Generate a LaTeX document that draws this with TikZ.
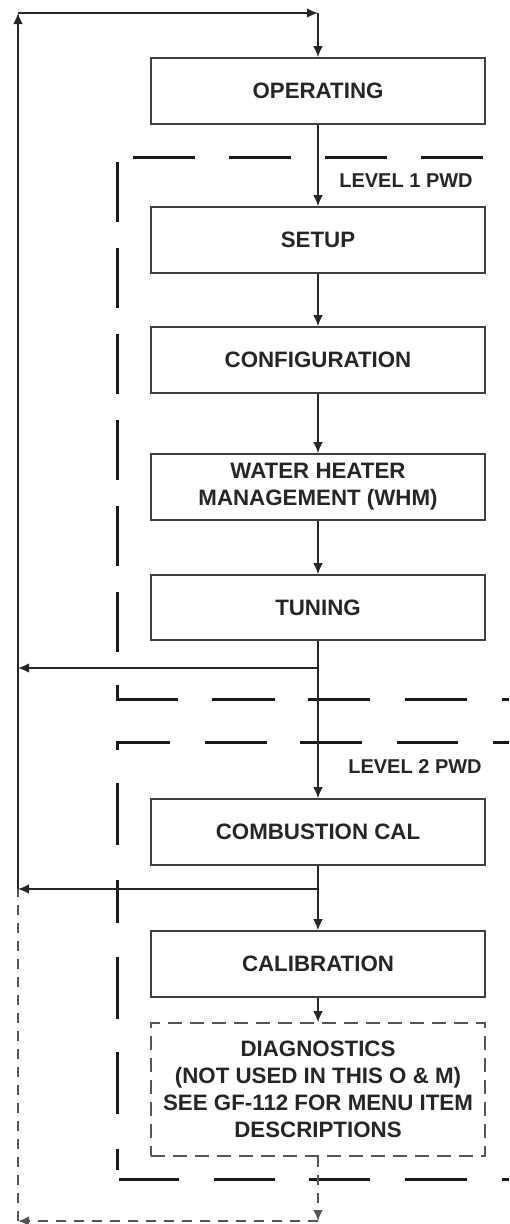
\documentclass[tikz,border=0pt]{standalone}
\usepackage{fontspec}
\setmainfont{Liberation Sans}
\usetikzlibrary{arrows.meta}
\definecolor{ink}{HTML}{262626}
\definecolor{boxc}{HTML}{404040}
\definecolor{lvlc}{HTML}{1A1A1A}
\definecolor{dashc}{HTML}{555555}
\begin{document}
\begin{tikzpicture}[x=1pt,y=-1pt,
  box/.style={draw=boxc, line width=1.6pt, minimum width=334pt, minimum height=66pt,
    inner sep=0pt, align=center, text=ink, font=\bfseries\fontsize{22.3}{27}\selectfont},
  dbox/.style={box, draw=dashc, dash pattern=on 14pt off 8pt, minimum height=133pt},
  conn/.style={draw=ink, line width=1.4pt, -{Latex[length=11pt,width=9.5pt]}},
  line/.style={draw=ink, line width=1.4pt},
  dconn/.style={conn, draw=dashc, dash pattern=on 10pt off 8pt},
  dline/.style={line, draw=dashc, dash pattern=on 10pt off 8pt},
  lvl/.style={draw=lvlc, line width=3pt},
  lvltext/.style={text=ink, font=\bfseries\fontsize{20}{22}\selectfont, inner sep=0pt}]
\useasboundingbox[fill=white] (0,0) rectangle (509,1224);
\begin{scope}
\clip (0,0) rectangle (509,1224);
% level 1 dashed frame
\draw[lvl, dash pattern=on 62pt off 34pt] (133,157) -- (560,157);
\draw[lvl, dash pattern=on 60pt off 26pt on 60pt off 26pt on 60pt off 26pt on 60pt off 26pt
  on 60pt off 26pt on 60pt off 33pt on 75pt off 34pt on 63pt off 33pt on 62pt off 35pt
  on 62pt off 35pt on 62pt off 100pt]
  (117,162) -- (117,699) -- (560,699);
% level 2 dashed frame
\draw[lvl, dash pattern=on 0pt off 5pt on 62pt off 35pt on 61pt off 35pt on 62pt off 33pt
  on 62pt off 35pt on 61pt off 33pt on 62pt off 35pt on 43pt off 34pt on 62pt off 33pt
  on 62pt off 35pt on 21pt off 11pt on 60pt off 35pt on 61pt off 34pt on 61pt off 35pt
  on 62pt off 35pt on 80pt off 100pt]
  (560,742) -- (117,742) -- (117,1179) -- (560,1179);
\end{scope}
\node[lvltext] (l1) at (406,181) {LEVEL 1 PWD};
\node[lvltext] (l2) at (415,767) {LEVEL 2 PWD};
% boxes
\node[box] (op) at (318,91) {OPERATING};
\node[box] (setup) at (318,240) {SETUP};
\node[box] (conf) at (318,360) {CONFIGURATION};
\node[box] (whm) at (318,487) {WATER HEATER\\MANAGEMENT (WHM)};
\node[box, minimum height=65pt] (tun) at (318,607.5) {TUNING};
\node[box] (comb) at (318,832) {COMBUSTION CAL};
\node[box] (cal) at (318,964) {CALIBRATION};
\node[dbox] (diag) at (318,1089.5) {DIAGNOSTICS\\(NOT USED IN THIS O \& M)\\SEE GF-112 FOR MENU ITEM\\DESCRIPTIONS};
% connector points
\coordinate (b1) at (318,668);
\coordinate (b1l) at (18,668);
\coordinate (b2) at (318,889);
\coordinate (b2l) at (18,889);
\coordinate (tl) at (18,13);
\coordinate (tr) at (318,13);
\coordinate (br) at (318,1221);
\coordinate (bl) at (18,1221);
% connectors
\draw[conn] (op) -- (setup);
\draw[conn] (setup) -- (conf);
\draw[conn] (conf) -- (whm);
\draw[conn] (whm) -- (tun);
\draw[conn] (tun) -- (comb);
\draw[conn] (b1) -- (b1l);
\draw[conn] (comb) -- (cal);
\draw[conn] (b2) -- (b2l);
\draw[conn] (cal) -- (diag);
\draw[dconn] (diag) -- (br);
\draw[dconn] (br) -- (bl);
\draw[dline] (bl) -- (b2l);
\draw[conn] (b2l) -- (tl);
\draw[conn] (tl) -- (tr);
\draw[conn] (tr) -- (op);
\end{tikzpicture}
\end{document}
